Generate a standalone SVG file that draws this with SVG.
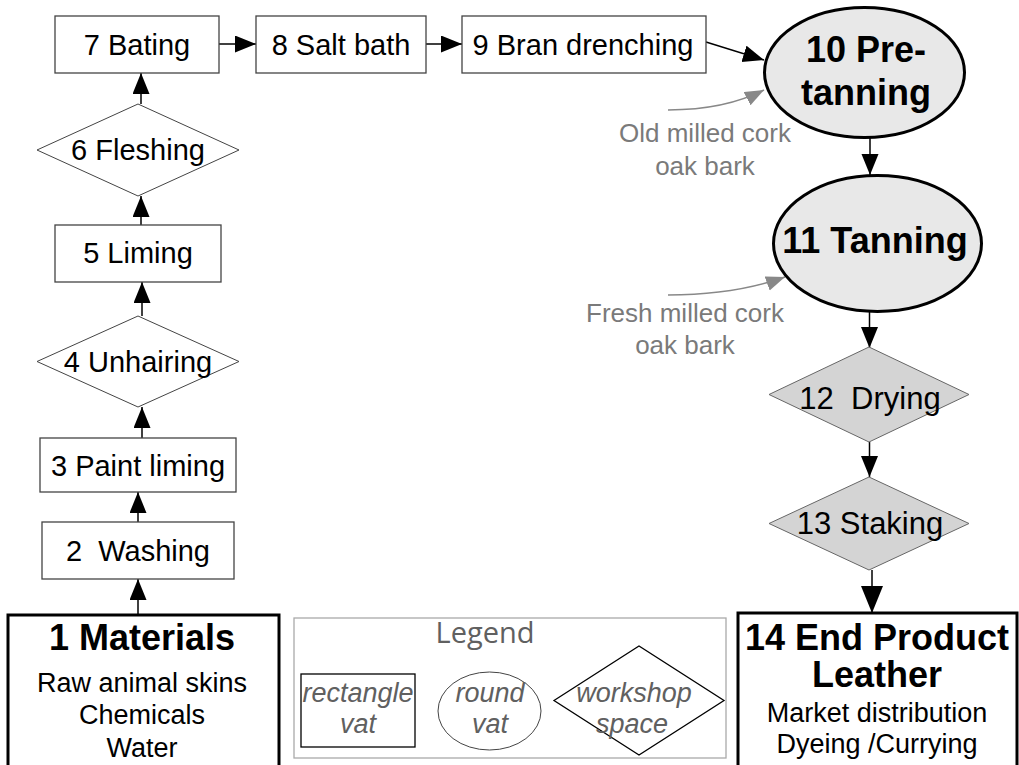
<svg xmlns="http://www.w3.org/2000/svg" width="1019" height="765" viewBox="0 0 1019 765">
<style>
.box{fill:#fff;stroke:#444;stroke-width:1.3}
.dia{fill:#fff;stroke:#444;stroke-width:1}
.gdia{fill:#d4d4d4;stroke:#666;stroke-width:1}
.vat{fill:#e8e8e8;stroke:#000;stroke-width:3}
.big{fill:#fff;stroke:#000;stroke-width:3}
.t{font-family:"Liberation Sans",Arial,sans-serif;font-size:29px;fill:#000;text-anchor:middle}
.tb{font-family:"Liberation Sans",Arial,sans-serif;font-size:36px;font-weight:bold;fill:#000;text-anchor:middle}
.ts{font-family:"Liberation Sans",Arial,sans-serif;font-size:27px;fill:#000;text-anchor:middle}
.ann{font-family:"Liberation Sans",Arial,sans-serif;font-size:26px;fill:#7a7a7a;text-anchor:middle}
.leg{font-family:"Liberation Sans",Arial,sans-serif;font-size:27px;font-style:italic;fill:#606060;text-anchor:middle}
.c{stroke:#000;stroke-width:1.5;fill:none}
.g{stroke:#888;stroke-width:1.5;fill:none}
</style>
<defs>
<marker id="ah" markerUnits="userSpaceOnUse" markerWidth="22" markerHeight="18" refX="21" refY="8.5" orient="auto"><path d="M0,0 L21,8.5 L0,17 z" fill="#000"/></marker>
<marker id="ahL" markerUnits="userSpaceOnUse" markerWidth="28" markerHeight="24" refX="27" refY="11" orient="auto"><path d="M0,0 L27,11 L0,22 z" fill="#000"/></marker>
<marker id="ahG" markerUnits="userSpaceOnUse" markerWidth="20" markerHeight="16" refX="19" refY="7.5" orient="auto"><path d="M0,0 L19,7.5 L0,15 z" fill="#888"/></marker>
</defs>

<g id="connectors">
<line class="c" x1="138" y1="615" x2="138" y2="579" marker-end="url(#ah)"/>
<line class="c" x1="138" y1="522" x2="138" y2="492" marker-end="url(#ah)"/>
<line class="c" x1="142" y1="438" x2="142" y2="407" marker-end="url(#ah)"/>
<line class="c" x1="142" y1="316" x2="142" y2="282" marker-end="url(#ah)"/>
<line class="c" x1="141" y1="225" x2="141" y2="196" marker-end="url(#ah)"/>
<line class="c" x1="141" y1="104" x2="141" y2="73" marker-end="url(#ah)"/>
<line class="c" x1="219" y1="44" x2="256" y2="44" marker-end="url(#ah)"/>
<line class="c" x1="426" y1="44" x2="462" y2="44" marker-end="url(#ah)"/>
<line class="c" x1="706" y1="42" x2="764" y2="60" marker-end="url(#ah)"/>
<line class="c" x1="870" y1="138" x2="870" y2="175" marker-end="url(#ah)"/>
<line class="c" x1="869.5" y1="312" x2="869.5" y2="348" marker-end="url(#ah)"/>
<line class="c" x1="869.5" y1="442" x2="869.5" y2="477" marker-end="url(#ah)"/>
<line class="c" x1="872" y1="570" x2="872" y2="613" marker-end="url(#ahL)"/>
<path class="g" d="M668,110 Q725,110 764,90" marker-end="url(#ahG)"/>
<path class="g" d="M668,295 Q735,295 785,277" marker-end="url(#ahG)"/>
</g>

<g id="n1"><rect class="big" x="8" y="615" width="271" height="160"/>
<text class="tb" x="142" y="650">1 Materials</text>
<text class="ts" x="142" y="692">Raw animal skins</text>
<text class="ts" x="142" y="724">Chemicals</text>
<text class="ts" x="142" y="757">Water</text></g>

<g id="n2"><rect class="box" x="42" y="522" width="192" height="57"/><text class="t" x="138" y="561" xml:space="preserve">2  Washing</text></g>
<g id="n3"><rect class="box" x="40" y="438" width="196" height="54"/><text class="t" x="138" y="476">3 Paint liming</text></g>
<g id="n4"><polygon class="dia" points="37,361.5 138,316 239,361.5 138,407"/><text class="t" x="138" y="372">4 Unhairing</text></g>
<g id="n5"><rect class="box" x="55" y="225" width="166" height="57"/><text class="t" x="138" y="263">5 Liming</text></g>
<g id="n6"><polygon class="dia" points="37,150 138,104 239,150 138,196"/><text class="t" x="138" y="160">6 Fleshing</text></g>
<g id="n7"><rect class="box" x="55" y="16" width="164" height="57"/><text class="t" x="137" y="55">7 Bating</text></g>
<g id="n8"><rect class="box" x="256" y="16" width="170" height="57"/><text class="t" x="341" y="55">8 Salt bath</text></g>
<g id="n9"><rect class="box" x="462" y="16" width="244" height="57"/><text class="t" x="583" y="55">9 Bran drenching</text></g>

<g id="n10"><ellipse class="vat" cx="864.5" cy="72.5" rx="100" ry="65"/>
<text class="tb" x="866" y="62">10 Pre-</text>
<text class="tb" x="866" y="105">tanning</text></g>
<g id="ann10"><text class="ann" x="705" y="142">Old milled cork</text><text class="ann" x="705" y="175">oak bark</text></g>

<g id="n11"><ellipse class="vat" cx="877.5" cy="243.5" rx="104" ry="68"/>
<text class="tb" x="875" y="253">11 Tanning</text></g>
<g id="ann11"><text class="ann" x="685" y="322">Fresh milled cork</text><text class="ann" x="685" y="354">oak bark</text></g>

<g id="n12"><polygon class="gdia" points="769,394.5 869,347 969,394.5 869,442"/><text class="t" style="font-size:31px" x="870" y="409" xml:space="preserve">12  Drying</text></g>
<g id="n13"><polygon class="gdia" points="769,523.5 869,477 969,523.5 869,570"/><text class="t" style="font-size:31px" x="870" y="534">13 Staking</text></g>

<g id="n14"><rect class="big" x="738" y="613" width="279" height="160"/>
<text class="tb" x="877" y="650">14 End Product</text>
<text class="tb" x="877" y="687">Leather</text>
<text class="ts" x="877" y="722">Market distribution</text>
<text class="ts" x="877" y="753">Dyeing /Currying</text></g>

<g id="legend">
<rect x="294" y="618" width="432" height="140" fill="#fff" stroke="#aaa" stroke-width="1.3"/>
<text x="485" y="643" style="font-family:'Open Sans','Liberation Sans',sans-serif;font-size:29px;fill:#606060;text-anchor:middle">Legend</text>
<rect x="301" y="674" width="114" height="73" fill="none" stroke="#000" stroke-width="1.3"/>
<text class="leg" x="358" y="702">rectangle</text><text class="leg" x="358" y="733">vat</text>
<ellipse cx="489.5" cy="711" rx="51.5" ry="39" fill="none" stroke="#444" stroke-width="1"/>
<text class="leg" x="490" y="702">round</text><text class="leg" x="490" y="733">vat</text>
<polygon points="554,700.5 639,646 724,700.5 639,755" fill="none" stroke="#000" stroke-width="1.3"/>
<text class="leg" x="634" y="702">workshop</text><text class="leg" x="632" y="733">space</text>
</g>
</svg>
